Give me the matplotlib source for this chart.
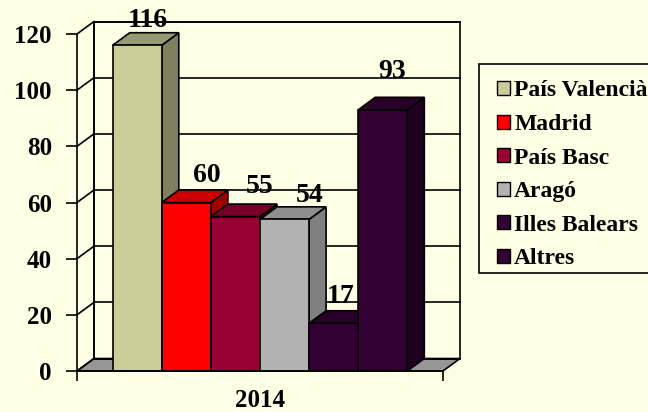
import matplotlib
matplotlib.use("Agg")
import matplotlib.pyplot as plt
from matplotlib.patches import Polygon, Rectangle
from matplotlib.lines import Line2D

# ---- data ----
categories = ["País Valencià", "Madrid", "País Basc", "Aragó", "Illes Balears", "Altres"]
values = [116, 60, 55, 54, 17, 93]
year_label = "2014"
y_ticks = [0, 20, 40, 60, 80, 100, 120]

# ---- styles ----
front_colors = ["#CCCC99", "#FF0000", "#990033", "#B2B2B2", "#330033", "#330033"]
top_colors = ["#999973", "#CC0000", "#7A0029", "#8F8F8F", "#290029", "#290029"]
side_colors = ["#80805F", "#A00000", "#660022", "#808080", "#1F001F", "#1F001F"]
bg = "#FFFFE6"
floor_color = "#969696"
font = ["Liberation Serif", "DejaVu Serif"]
# label nudges in pixels: dx, and baseline height above bar's back top edge
label_dx = [2, 12, 16, 17, -2, 1]
label_dy = [6, 8.5, 11.5, 4.5, 8, 19]

W, H, DPI = 648, 412, 100
fig = plt.figure(figsize=(W / DPI, H / DPI), dpi=DPI, facecolor=bg)

# axes: front plane, x 77..443 px, y(0)=371 px, y(120)=34 px
ax_l, ax_r, ax_b, ax_t = 77, 443, 371, 34
ax = fig.add_axes([ax_l / W, (H - ax_b) / H, (ax_r - ax_l) / W, (ax_b - ax_t) / H])
ax.set_facecolor("none")
ymax = 120
ax.set_xlim(0, 1)
ax.set_ylim(0, ymax)

px_x = 1.0 / (ax_r - ax_l)          # data units per pixel in x
px_y = ymax / (ax_b - ax_t)         # data units per pixel in y
dx = 17 * px_x
dy = 12.5 * px_y

lw = 1.2
# floor
ax.add_patch(Polygon([(0, 0), (1, 0), (1 + dx, dy), (dx, dy)], closed=True,
                     facecolor=floor_color, edgecolor="black", lw=lw, clip_on=False, zorder=1))
# back wall outline
ax.add_patch(Rectangle((dx, dy), 1, ymax, facecolor="none", edgecolor="black",
                       lw=lw, clip_on=False, zorder=1))
# gridlines on back wall + side wall
for t in y_ticks:
    ax.add_line(Line2D([dx, 1 + dx], [t + dy, t + dy], color="black", lw=lw, clip_on=False, zorder=1))
    ax.add_line(Line2D([0, dx], [t, t + dy], color="black", lw=lw, clip_on=False, zorder=1))
ax.add_line(Line2D([dx, dx], [dy, ymax + dy], color="black", lw=lw, clip_on=False, zorder=1))

# bars
n = len(values)
gap = 0.195
w = (1 - gap) / n
for i, v in enumerate(values):
    x0 = gap / 2 + i * w
    z = 2 + i
    ax.add_patch(Polygon([(x0 + w, 0), (x0 + w + dx, dy), (x0 + w + dx, v + dy), (x0 + w, v)],
                         closed=True, facecolor=side_colors[i], edgecolor="black", lw=lw,
                         clip_on=False, zorder=z))
    ax.add_patch(Polygon([(x0, v), (x0 + w, v), (x0 + w + dx, v + dy), (x0 + dx, v + dy)],
                         closed=True, facecolor=top_colors[i], edgecolor="black", lw=lw,
                         clip_on=False, zorder=z))
    ax.add_patch(Rectangle((x0, 0), w, v, facecolor=front_colors[i], edgecolor="black",
                           lw=lw, clip_on=False, zorder=z))
    ax.text(x0 + w / 2 + dx / 2 + label_dx[i] * px_x, v + dy + label_dy[i] * px_y, str(v),
            ha="center", va="baseline", fontsize=20, fontweight="bold",
            family=font, color="black", zorder=20, clip_on=False)

# axes lines / ticks
for s in ["top", "right"]:
    ax.spines[s].set_visible(False)
for s in ["left", "bottom"]:
    ax.spines[s].set_linewidth(lw)
    ax.spines[s].set_zorder(15)
ax.set_yticks(y_ticks)
ax.set_yticklabels([str(t) for t in y_ticks], fontsize=18, fontweight="bold", family=font)
ax.tick_params(axis="y", direction="out", length=8, width=lw, pad=10)
ax.set_xticks([0.5])
ax.set_xticklabels([year_label], fontsize=18, fontweight="bold", family=font)
ax.tick_params(axis="x", which="major", length=0, pad=13)
ax.set_xticks([0, 1], minor=True)
ax.tick_params(axis="x", which="minor", direction="out", length=7, width=lw)

# legend frame (extends past the right edge as in the reference)
fig.patches.append(Rectangle((479 / W, 1 - 273 / H), 190 / W, (273 - 64) / H,
                             transform=fig.transFigure, facecolor=bg, edgecolor="black",
                             lw=1.2, zorder=0))
handles = [Rectangle((0, 0), 1, 1, facecolor=c, edgecolor="black", lw=1) for c in front_colors]
leg = fig.legend(handles, categories, loc="upper left",
                 bbox_to_anchor=(497 / W, 1 - 80.5 / H),
                 prop={"family": font, "weight": "bold", "size": 17},
                 frameon=False,
                 handlelength=0.55, handleheight=0.55, handletextpad=0.18,
                 labelspacing=0.53, borderpad=0, borderaxespad=0)

fig.savefig("out.png", dpi=DPI, facecolor=bg)
